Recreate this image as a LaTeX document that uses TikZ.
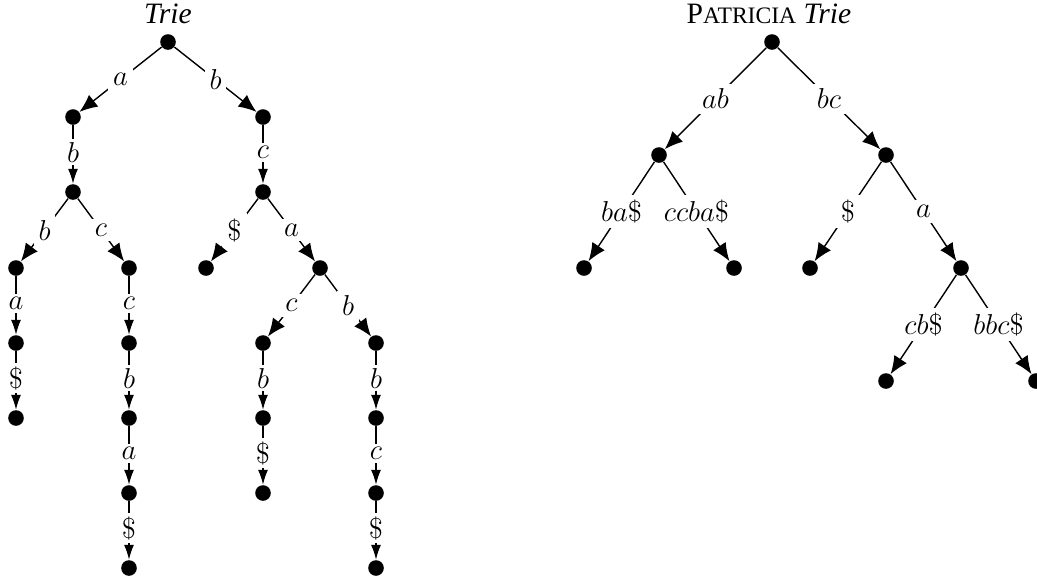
\documentclass[tikz,border=0pt]{standalone}
\usepackage{fontspec}
\newfontfamily\timesfont{Liberation Serif}
\usetikzlibrary{arrows.meta}
\begin{document}
\begin{tikzpicture}[x=0.5pt,y=-0.5pt,
  dot/.style={circle,fill=black,inner sep=0pt,minimum size=7.8pt},
  edge/.style={line width=0.7pt,-{Latex[length=9pt,width=7.5pt]}},
  vedge/.style={line width=0.7pt,-{Latex[length=7.5pt,width=5pt]}},
  lab/.style={fill=white,inner sep=2.5pt,font=\fontsize{14.5}{16}\selectfont},
  vlab/.style={lab,inner ysep=1.6pt,pos=0.46},
  ttl/.style={inner sep=0pt,font=\fontsize{14.8}{16}\timesfont}]
\useasboundingbox (0,0) rectangle (1037,580);
% ---------- Trie ----------
\node[ttl] (t1) at (168,14) {\itshape Trie};
\node[dot] (r)   at (168,42) {};
\node[dot] (a)   at (73,117) {};
\node[dot] (b)   at (263,117) {};
\node[dot] (ab)  at (73,192) {};
\node[dot] (bc)  at (263,192) {};
\node[dot] (abb) at (16,268) {};
\node[dot] (abc) at (129,268) {};
\node[dot] (bcd) at (206,268) {};
\node[dot] (bca) at (320,268) {};
\node[dot] (abba) at (16,343) {};
\node[dot] (abbad) at (16,418) {};
\node[dot] (abcc) at (129,343) {};
\node[dot] (abccb) at (129,418) {};
\node[dot] (abccba) at (129,493) {};
\node[dot] (abccbad) at (129,568) {};
\node[dot] (bcac) at (263,343) {};
\node[dot] (bcab) at (376,343) {};
\node[dot] (bcacb) at (263,418) {};
\node[dot] (bcacbd) at (263,493) {};
\node[dot] (bcabb) at (376,418) {};
\node[dot] (bcabbc) at (376,493) {};
\node[dot] (bcabbcd) at (376,568) {};
\draw[edge] (r) -- node[lab]{$a$} (a);
\draw[edge] (r) -- node[lab]{$b$} (b);
\draw[vedge] (a) -- node[vlab]{$b$} (ab);
\draw[vedge] (b) -- node[vlab]{$c$} (bc);
\draw[edge] (ab) -- node[lab]{$b$} (abb);
\draw[edge] (ab) -- node[lab]{$c$} (abc);
\draw[edge] (bc) -- node[lab]{$\$$} (bcd);
\draw[edge] (bc) -- node[lab]{$a$} (bca);
\draw[vedge] (abb) -- node[vlab]{$a$} (abba);
\draw[vedge] (abba) -- node[vlab]{$\$$} (abbad);
\draw[vedge] (abc) -- node[vlab]{$c$} (abcc);
\draw[vedge] (abcc) -- node[vlab]{$b$} (abccb);
\draw[vedge] (abccb) -- node[vlab]{$a$} (abccba);
\draw[vedge] (abccba) -- node[vlab]{$\$$} (abccbad);
\draw[edge] (bca) -- node[lab]{$c$} (bcac);
\draw[edge] (bca) -- node[lab]{$b$} (bcab);
\draw[vedge] (bcac) -- node[vlab]{$b$} (bcacb);
\draw[vedge] (bcacb) -- node[vlab]{$\$$} (bcacbd);
\draw[vedge] (bcab) -- node[vlab]{$b$} (bcabb);
\draw[vedge] (bcabb) -- node[vlab]{$c$} (bcabbc);
\draw[vedge] (bcabbc) -- node[vlab]{$\$$} (bcabbcd);
% ---------- PATRICIA Trie ----------
\node[ttl] (t2) at (769,14) {P{\fontsize{11.8}{13}\selectfont ATRICIA} \itshape Trie};
\node[dot] (pr) at (772,42) {};
\node[dot] (pa) at (659,155) {};
\node[dot] (pb) at (886,155) {};
\node[dot] (paa) at (584,268) {};
\node[dot] (pac) at (734,268) {};
\node[dot] (pbd) at (810,268) {};
\node[dot] (pba) at (961,268) {};
\node[dot] (pbac) at (886,381) {};
\node[dot] (pbab) at (1036,381) {};
\draw[edge] (pr) -- node[lab]{$ab$} (pa);
\draw[edge] (pr) -- node[lab]{$bc$} (pb);
\draw[edge] (pa) -- node[lab]{$ba\$$} (paa);
\draw[edge] (pa) -- node[lab]{$ccba\$$} (pac);
\draw[edge] (pb) -- node[lab]{$\$$} (pbd);
\draw[edge] (pb) -- node[lab]{$a$} (pba);
\draw[edge] (pba) -- node[lab]{$cb\$$} (pbac);
\draw[edge] (pba) -- node[lab]{$bbc\$$} (pbab);
\end{tikzpicture}
\end{document}
